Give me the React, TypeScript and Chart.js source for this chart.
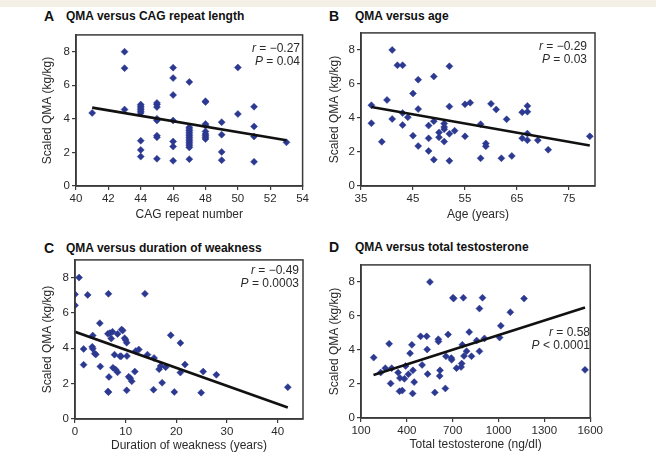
import React, { useEffect, useRef } from 'react';
import { Chart, registerables } from 'chart.js';

Chart.register(...registerables);

// ---------- Panel A: QMA versus CAG repeat length ----------
const cagRepeat = [
  41,
  43, 43, 43,
  44, 44, 44, 44, 44, 44, 44, 44, 44,
  45, 45, 45, 45, 45, 45, 45, 45,
  46, 46, 46, 46, 46, 46, 46,
  47, 47, 47, 47, 47, 47, 47, 47, 47, 47, 47, 47, 47, 47, 47,
  48, 48, 48, 48, 48, 48, 48, 48, 48,
  49, 49, 49, 49,
  50, 50,
  51, 51, 51, 51,
  53,
];
const cagQma = [
  4.35,
  8.0, 7.02, 4.55,
  4.85, 4.75, 4.65, 4.55, 4.45, 4.35, 2.7, 2.15, 1.75,
  4.95, 4.85, 4.7, 4.0, 3.9, 3.0, 2.9, 1.62,
  7.05, 6.43, 5.42, 3.9, 2.65, 2.35, 1.5,
  6.2, 3.5, 3.4, 3.3, 3.2, 3.1, 3.0, 2.9, 2.8, 2.7, 2.6, 2.5, 2.4, 2.3, 1.6,
  5.05, 5.0, 3.7, 3.6, 3.25, 3.1, 3.0, 2.9, 2.8,
  3.8, 3.06, 2.03, 1.54,
  7.06, 4.29,
  4.72, 3.55, 2.95, 1.44,
  2.6,
];
const cagFitX = [41, 53];
const cagFitY = [4.67, 2.73];

// ---------- Panel B: QMA versus age ----------
const ageYears = [
  37, 37, 39, 40, 41, 41, 42, 43, 43, 43, 44, 45, 45, 46, 46, 46, 48, 48, 48,
  49, 49, 49, 50, 50, 51, 51, 51, 51, 52, 52, 52, 52, 53, 55, 55, 56, 58, 58,
  59, 59, 60, 61, 62, 63, 64, 66, 66, 67, 67, 67, 67, 69, 71, 79,
];
const ageQma = [
  4.75, 3.69, 2.6, 5.06, 8.0, 3.94, 7.1, 7.1, 4.29, 3.58, 4.04, 5.44, 2.96, 6.25, 4.52, 2.35, 3.55, 2.8, 2.06,
  6.44, 3.81, 1.55, 3.15, 2.86, 3.67, 3.47, 3.34, 2.61, 7.04, 4.67, 3.07, 1.48, 3.25, 4.8, 2.92, 4.9, 3.63, 1.63,
  2.5, 2.33, 4.83, 4.5, 1.63, 3.92, 1.77, 4.33, 2.81, 4.71, 4.37, 3.08, 2.69, 2.69, 2.13, 2.92,
];
const ageFitX = [37, 79];
const ageFitY = [4.64, 2.38];

// ---------- Panel C: QMA versus duration of weakness ----------
const durationYears = [
  0.8, 0, 0, 2.5, 6.6, 13.8, 4.9, 3.5, 1.7, 1.7, 3.4, 3.5, 3.9, 4.1, 5.0,
  6.5, 6.9, 7.4, 7.15, 8.4, 9.2, 9.4, 9.8, 10.0, 10.2, 7.8, 8.9, 9.1, 10.25,
  7.5, 8.0, 8.4, 6.7, 6.5, 6.6, 10.2, 10.6, 10.9, 11.2, 11.8, 12.0, 12.6,
  14.3, 15.5, 15.6, 16.6, 16.9, 17.2, 17.9, 18.9, 19.6, 20.8, 20.8, 21.7,
  24.9, 25.3, 27.9, 42,
];
const durationQma = [
  8.0, 7.05, 6.43, 7.02, 7.08, 7.08, 5.42, 4.72, 3.96, 3.07, 4.08, 3.98, 3.7, 3.65, 2.97,
  4.82, 4.86, 4.93, 4.55, 4.81, 5.06, 5.0, 4.57, 4.47, 4.32, 3.64, 3.55, 3.55, 3.56,
  2.9, 2.8, 2.64, 2.38, 1.56, 1.52, 1.62, 2.39, 2.3, 2.13, 2.68, 3.85, 3.93,
  3.64, 1.66, 3.45, 2.82, 3.0, 2.05, 2.93, 4.74, 1.53, 4.3, 2.63, 3.08,
  1.49, 2.68, 2.5, 1.8,
];
const durationFitX = [0, 42];
const durationFitY = [4.93, 0.65];

// ---------- Panel D: QMA versus total testosterone ----------
const testosterone = [
  183, 229, 259, 284, 294, 301, 343, 355, 352, 370, 384, 392, 410, 421, 433,
  440, 438, 448, 490, 500, 530, 533, 536, 551, 583, 606, 607, 617, 615, 652,
  656, 670, 691, 693, 702, 706, 725, 755, 759, 763, 774, 770, 791, 808, 823,
  857, 875, 875, 895, 908, 1007, 1015, 1077, 1167, 1566,
];
const testosteroneQma = [
  3.55, 2.67, 2.93, 4.36, 2.03, 2.93, 2.67, 2.35, 1.57, 1.61, 2.3, 3.06, 2.57, 3.8, 4.3,
  2.8, 1.44, 2.11, 4.8, 3.12, 4.8, 4.03, 2.58, 8.0, 1.5, 4.63, 4.5, 2.8, 2.47, 1.74,
  3.63, 4.91, 3.52, 3.42, 7.07, 7.02, 2.93, 3.0, 3.2, 4.3, 3.65, 7.07, 3.93, 5.05, 3.63,
  4.55, 6.43, 3.92, 7.07, 4.68, 4.73, 5.42, 6.22, 7.02, 2.83,
];
const testoFitX = [182, 1566];
const testoFitY = [2.53, 6.5];

// ---------- Tick labels ----------
const yTickValues = [0, 2, 4, 6, 8];
const cagTicks = [40, 42, 44, 46, 48, 50, 52, 54];
const ageTicks = [35, 45, 55, 65, 75];
const durationTicks = [0, 10, 20, 30, 40];
const testoTicks = [100, 400, 700, 1000, 1300, 1600];

const FONT = "'Liberation Sans', Arial, Helvetica, sans-serif";
const POINT_COLOR = '#2C3990';
const AXIS_COLOR = '#3a3a3a';
const TEXT_COLOR = '#2a2a2a';

const framePlugin = {
  id: 'frame',
  afterDraw(chart: any) {
    const { ctx, chartArea } = chart;
    ctx.save();
    ctx.strokeStyle = AXIS_COLOR;
    ctx.lineWidth = 1.5;
    ctx.strokeRect(chartArea.left, chartArea.top, chartArea.right - chartArea.left, chartArea.bottom - chartArea.top);
    ctx.restore();
  },
};

type PanelProps = {
  rect: [number, number, number, number];
  xs: number[];
  ys: number[];
  fitX: number[];
  fitY: number[];
  xMin: number;
  xMax: number;
  xTicks: number[];
  xTitle: string;
  yWidth: number;
  xHeight: number;
};

function Panel({ rect, xs, ys, fitX, fitY, xMin, xMax, xTicks, xTitle, yWidth, xHeight }: PanelProps) {
  const ref = useRef<HTMLCanvasElement>(null);
  const [L, T, R, B] = rect;
  const padTop = 6;
  const padRight = 8;
  const cLeft = L - yWidth;
  const cTop = T - padTop;
  const cw = R - L + yWidth + padRight;
  const ch = B - T + padTop + xHeight;

  useEffect(() => {
    if (!ref.current) return;
    const chart = new Chart(ref.current, {
      type: 'scatter',
      data: {
        datasets: [
          {
            data: fitX.map((x, i) => ({ x, y: fitY[i] })),
            showLine: true,
            borderColor: '#111111',
            borderWidth: 2.6,
            pointRadius: 0,
            order: 0,
          } as any,
          {
            data: xs.map((x, i) => ({ x, y: ys[i] })),
            pointStyle: 'rectRot',
            pointRadius: 3.5,
            backgroundColor: POINT_COLOR,
            borderColor: POINT_COLOR,
            borderWidth: 0.5,
            order: 1,
          } as any,
        ],
      },
      options: {
        responsive: false,
        animation: false,
        devicePixelRatio: 1,
        layout: { padding: { top: padTop, right: padRight, left: 0, bottom: 0 } },
        plugins: { legend: { display: false }, tooltip: { enabled: false } },
        scales: {
          x: {
            type: 'linear',
            min: xMin,
            max: xMax,
            afterFit: (s: any) => { s.height = xHeight; },
            afterBuildTicks: (s: any) => { s.ticks = xTicks.map((v) => ({ value: v })); },
            grid: { drawOnChartArea: false, drawTicks: true, tickLength: 4, color: AXIS_COLOR, lineWidth: 1.2 },
            border: { display: true, color: AXIS_COLOR, width: 1.5 },
            ticks: {
              font: { size: 11.5, family: FONT }, color: TEXT_COLOR, padding: 2, maxRotation: 0, autoSkip: false,
              callback: (v: any) => String(v),
            },
            title: { display: true, text: xTitle, font: { size: 12, family: FONT }, color: TEXT_COLOR, padding: { top: 0, bottom: 4 } },
          },
          y: {
            type: 'linear',
            min: 0,
            max: 9,
            afterFit: (s: any) => { s.width = yWidth; },
            afterBuildTicks: (s: any) => { s.ticks = yTickValues.map((v) => ({ value: v })); },
            grid: { drawOnChartArea: false, drawTicks: true, tickLength: 4, color: AXIS_COLOR, lineWidth: 1.2 },
            border: { display: true, color: AXIS_COLOR, width: 1.5 },
            ticks: {
              font: { size: 11.5, family: FONT }, color: TEXT_COLOR, padding: 2, autoSkip: false,
              callback: (v: any) => String(v),
            },
            title: { display: true, text: 'Scaled QMA (kg/kg)', font: { size: 12, family: FONT }, color: TEXT_COLOR, padding: { top: 4, bottom: 4 } },
          },
        },
      } as any,
      plugins: [framePlugin],
    });
    return () => chart.destroy();
  }, []);

  return (
    <canvas
      ref={ref}
      width={cw}
      height={ch}
      style={{ position: 'absolute', left: cLeft, top: cTop, width: cw, height: ch }}
    />
  );
}

function Label({ x, y, text, size, bold }: { x: number; y: number; text: string; size: number; bold?: boolean }) {
  return (
    <div
      style={{
        position: 'absolute',
        left: x,
        top: y - 8,
        lineHeight: '16px',
        fontSize: size,
        fontWeight: bold ? 'bold' : 'normal',
        fontFamily: FONT,
        color: '#111',
        whiteSpace: 'nowrap',
      }}
    >
      {text}
    </div>
  );
}

function Stats({ right, y, r, p, pOp }: { right: number; y: number; r: string; p: string; pOp: string }) {
  return (
    <div
      style={{
        position: 'absolute',
        left: right - 140,
        width: 140,
        top: y - 6.5,
        textAlign: 'right',
        fontSize: 12,
        lineHeight: '13px',
        fontFamily: FONT,
        color: TEXT_COLOR,
        whiteSpace: 'nowrap',
      }}
    >
      <div><i>r</i> = {r}</div>
      <div><i>P</i> {pOp} {p}</div>
    </div>
  );
}

export default function App() {
  return (
    <div
      style={{
        position: 'fixed',
        left: 0,
        top: 0,
        width: 656,
        height: 456,
        background: '#ffffff',
        overflow: 'hidden',
      }}
    >
      <div style={{ position: 'absolute', left: 0, top: 0, width: 656, height: 7, background: '#F5F0E6' }} />

      <Label x={44} y={16} text="A" size={14} bold />
      <Label x={66} y={16} text="QMA versus CAG repeat length" size={12} bold />
      <Label x={329} y={16} text="B" size={14} bold />
      <Label x={355} y={16} text="QMA versus age" size={12} bold />
      <Label x={44} y={248} text="C" size={14} bold />
      <Label x={66} y={248} text="QMA versus duration of weakness" size={12} bold />
      <Label x={329} y={247} text="D" size={14} bold />
      <Label x={355} y={247} text="QMA versus total testosterone" size={12} bold />

      <Panel rect={[76, 32, 303, 186]} xs={cagRepeat} ys={cagQma} fitX={cagFitX} fitY={cagFitY}
        xMin={40} xMax={54} xTicks={cagTicks} xTitle="CAG repeat number" yWidth={40} xHeight={40} />
      <Panel rect={[361, 30, 595, 186]} xs={ageYears} ys={ageQma} fitX={ageFitX} fitY={ageFitY}
        xMin={35} xMax={80} xTicks={ageTicks} xTitle="Age (years)" yWidth={38} xHeight={40} />
      <Panel rect={[75, 257, 303, 419]} xs={durationYears} ys={durationQma} fitX={durationFitX} fitY={durationFitY}
        xMin={0} xMax={45} xTicks={durationTicks} xTitle="Duration of weakness (years)" yWidth={39} xHeight={38} />
      <Panel rect={[361, 262, 597, 418]} xs={testosterone} ys={testosteroneQma} fitX={testoFitX} fitY={testoFitY}
        xMin={100} xMax={1600} xTicks={testoTicks} xTitle="Total testosterone (ng/dl)" yWidth={38} xHeight={38} />

      <Stats right={300} y={48} r="−0.27" p="0.04" pOp="=" />
      <Stats right={587} y={46} r="−0.29" p="0.03" pOp="=" />
      <Stats right={299} y={270} r="−0.49" p="0.0003" pOp="=" />
      <Stats right={590} y={332} r="0.58" p="0.0001" pOp="<" />
    </div>
  );
}
